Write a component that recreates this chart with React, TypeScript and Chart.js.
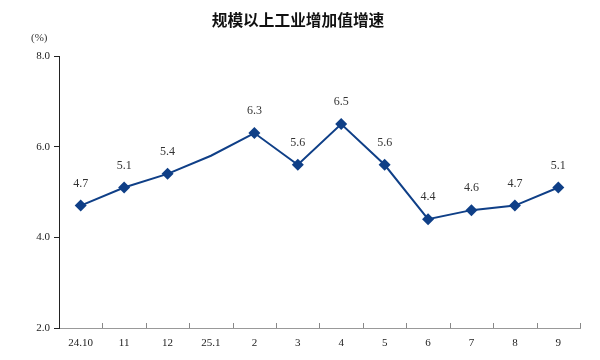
import React, { useEffect, useRef } from "react";
import { Chart, registerables } from "chart.js";

Chart.register(...registerables);

const categories = ["24.10", "11", "12", "25.1", "2", "3", "4", "5", "6", "7", "8", "9"];
const growth = [4.7, 5.1, 5.4, 5.8, 6.3, 5.6, 6.5, 5.6, 4.4, 4.6, 4.7, 5.1];
const showPoint = [true, true, true, false, true, true, true, true, true, true, true, true];
const yTicks = [2, 4, 6, 8];
const titleText = "规模以上工业增加值增速";
const unitText = "(%)";

const LINE_COLOR = "#0f3f87";
const SERIF = "'Liberation Serif', 'DejaVu Serif', serif";

const decorPlugin = {
  id: "decor",
  afterDraw(chart: any) {
    const ctx = chart.ctx;
    const x = chart.scales.x;
    const area = chart.chartArea;
    ctx.save();
    // title
    ctx.fillStyle = "#111";
    ctx.font = "bold 15.7px 'Noto Sans CJK SC', sans-serif";
    ctx.textAlign = "center";
    ctx.textBaseline = "middle";
    ctx.fillText(titleText, 298, 20);
    // unit
    ctx.font = "11px " + SERIF;
    ctx.fillStyle = "#333";
    ctx.textAlign = "left";
    ctx.fillText(unitText, 31, 38);
    // x ticks pointing inward
    ctx.strokeStyle = "#888";
    ctx.lineWidth = 1;
    const n = categories.length;
    const half = (x.getPixelForValue(1) - x.getPixelForValue(0)) / 2;
    for (let i = 1; i <= n; i++) {
      const px = Math.round(x.getPixelForValue(i - 1) + half) + 0.5;
      ctx.beginPath();
      ctx.moveTo(px, area.bottom);
      ctx.lineTo(px, area.bottom - 5);
      ctx.stroke();
    }
    // data labels
    const meta = chart.getDatasetMeta(0);
    ctx.font = "12px " + SERIF;
    ctx.fillStyle = "#333";
    ctx.textAlign = "center";
    ctx.textBaseline = "middle";
    meta.data.forEach((pt: any, i: number) => {
      if (!showPoint[i]) return;
      ctx.fillText(growth[i].toFixed(1), pt.x, pt.y - 22);
    });
    ctx.restore();
  },
};

export default function App() {
  const ref = useRef<HTMLCanvasElement | null>(null);
  useEffect(() => {
    document.body.style.margin = "0";
    const canvas = ref.current;
    if (!canvas) return;
    const chart = new Chart(canvas, {
      type: "line",
      data: {
        labels: categories,
        datasets: [
          {
            data: growth,
            borderColor: LINE_COLOR,
            backgroundColor: LINE_COLOR,
            borderWidth: 2,
            pointStyle: "rectRot",
            pointRadius: showPoint.map((s) => (s ? 6 : 0)),
            pointHoverRadius: 6,
            pointBorderWidth: 0,
            tension: 0,
          },
        ],
      },
      options: {
        animation: false,
        responsive: false,
        layout: { padding: { top: 56, right: 20, left: 0, bottom: 0 } },
        plugins: { legend: { display: false }, tooltip: { enabled: false }, title: { display: false } },
        scales: {
          x: {
            offset: true,
            grid: { display: true, drawOnChartArea: false, drawTicks: false, offset: true },
            border: { color: "#999", width: 1 },
            ticks: { color: "#222", font: { family: SERIF, size: 11 }, padding: 9, maxRotation: 0, autoSkip: false },
            afterFit: (s: any) => {
              s.height = 32;
            },
          },
          y: {
            min: 2,
            max: 8,
            afterBuildTicks: (s: any) => {
              s.ticks = yTicks.map((v) => ({ value: v }));
            },
            grid: { display: true, drawOnChartArea: false, tickLength: 5, color: "#222" },
            border: { color: "#222", width: 1 },
            ticks: {
              color: "#222",
              font: { family: SERIF, size: 11 },
              padding: 4,
              callback: (v: any) => Number(v).toFixed(1),
            },
            afterFit: (s: any) => {
              s.width = 59;
            },
          },
        },
      },
      plugins: [decorPlugin],
    });
    return () => chart.destroy();
  }, []);
  return (
    <div style={{ width: 600, height: 360 }}>
      <canvas ref={ref} width={600} height={360} style={{ display: "block" }} />
    </div>
  );
}
